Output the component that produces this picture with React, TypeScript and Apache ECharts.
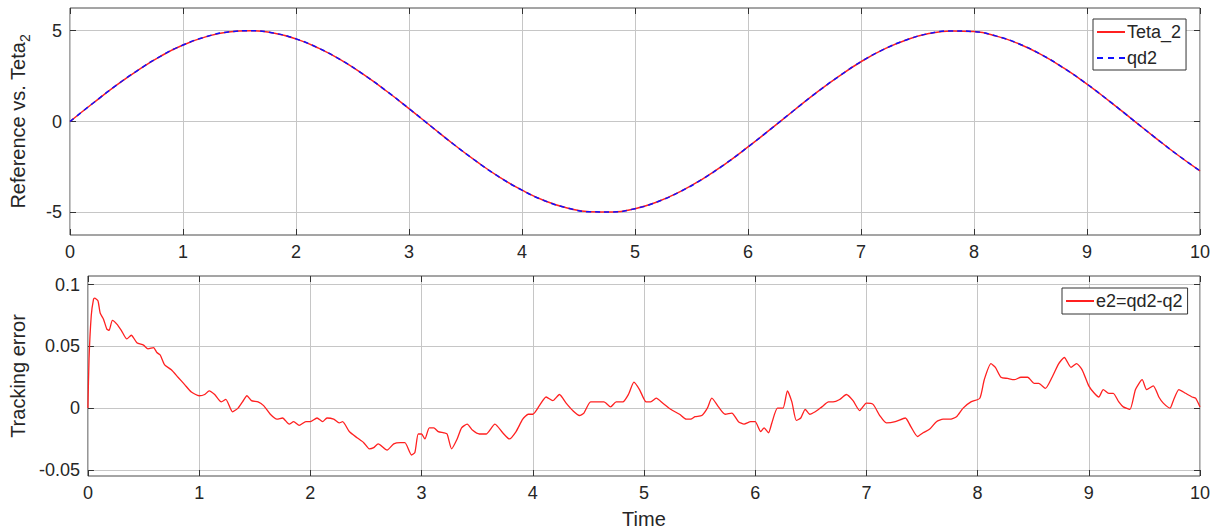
import React, { useEffect, useRef } from 'react';
import * as echarts from 'echarts';

// ---- data ----
const xTicks = [0, 1, 2, 3, 4, 5, 6, 7, 8, 9, 10];
const refYTicks = [-5, 0, 5];
const errYTicks = [-0.05, 0, 0.05, 0.1];

const refTime = [
  0, 0.2, 0.4, 0.6, 0.8, 1.0, 1.2, 1.4, 1.6, 1.8, 2.0, 2.2, 2.4, 2.6, 2.8, 3.0, 3.2, 3.4, 3.6, 3.8,
  4.0, 4.2, 4.4, 4.6, 4.8, 5.0, 5.2, 5.4, 5.6, 5.8, 6.0, 6.2, 6.4, 6.6, 6.8, 7.0, 7.2, 7.4, 7.6, 7.8,
  8.0, 8.2, 8.4, 8.6, 8.8, 9.0, 9.2, 9.4, 9.6, 9.8, 10.0,
];
const teta2 = [
  0, 0.99, 1.95, 2.82, 3.59, 4.21, 4.66, 4.93, 5.0, 4.87, 4.55, 4.04, 3.38, 2.58, 1.68, 0.71, -0.29,
  -1.28, -2.21, -3.06, -3.78, -4.36, -4.76, -4.97, -4.98, -4.8, -4.42, -3.86, -3.16, -2.33, -1.4, -0.42,
  0.58, 1.56, 2.47, 3.29, 3.97, 4.49, 4.84, 4.99, 4.95, 4.7, 4.27, 3.67, 2.92, 2.06, 1.11, 0.12, -0.87,
  -1.83, -2.72,
];
const qd2 = [
  0, 0.99, 1.95, 2.82, 3.59, 4.21, 4.66, 4.93, 5.0, 4.87, 4.55, 4.04, 3.38, 2.58, 1.68, 0.71, -0.29,
  -1.28, -2.21, -3.06, -3.78, -4.36, -4.76, -4.97, -4.98, -4.8, -4.42, -3.86, -3.16, -2.33, -1.4, -0.42,
  0.58, 1.56, 2.47, 3.29, 3.97, 4.49, 4.84, 4.99, 4.95, 4.7, 4.27, 3.67, 2.92, 2.06, 1.11, 0.12, -0.87,
  -1.83, -2.72,
];

const errTime = [
  0, 0.01, 0.03, 0.05, 0.06, 0.09, 0.11, 0.14, 0.17, 0.19, 0.22, 0.26, 0.3, 0.35, 0.39, 0.44, 0.5, 0.54,
  0.59, 0.62, 0.65, 0.69, 0.75, 0.81, 0.87, 0.93, 1.0, 1.05, 1.09, 1.14, 1.2, 1.24, 1.3, 1.35, 1.39,
  1.43, 1.47, 1.53, 1.58, 1.64, 1.7, 1.75, 1.81, 1.85, 1.9, 1.96, 2.0, 2.06, 2.11, 2.15, 2.21, 2.26,
  2.29, 2.35, 2.42, 2.48, 2.53, 2.57, 2.61, 2.69, 2.75, 2.81, 2.85, 2.91, 2.94, 2.97, 3.0, 3.03, 3.07,
  3.11, 3.15, 3.2, 3.23, 3.27, 3.32, 3.36, 3.41, 3.46, 3.52, 3.58, 3.66, 3.73, 3.79, 3.85, 3.91, 3.96,
  4.0, 4.06, 4.12, 4.18, 4.24, 4.3, 4.36, 4.42, 4.46, 4.52, 4.58, 4.64, 4.7, 4.75, 4.81, 4.86, 4.91,
  4.96, 5.02, 5.06, 5.11, 5.17, 5.24, 5.32, 5.38, 5.42, 5.46, 5.52, 5.57, 5.61, 5.67, 5.73, 5.79, 5.85,
  5.9, 5.96, 6.0, 6.05, 6.08, 6.12, 6.15, 6.2, 6.25, 6.29, 6.33, 6.37, 6.41, 6.45, 6.49, 6.54, 6.6,
  6.66, 6.7, 6.76, 6.82, 6.88, 6.94, 7.0, 7.06, 7.12, 7.18, 7.26, 7.35, 7.4, 7.46, 7.51, 7.57, 7.63,
  7.69, 7.75, 7.81, 7.87, 7.94, 8.02, 8.06, 8.12, 8.16, 8.21, 8.27, 8.33, 8.39, 8.45, 8.51, 8.55, 8.61,
  8.67, 8.73, 8.78, 8.84, 8.89, 8.94, 9.0, 9.05, 9.09, 9.13, 9.18, 9.22, 9.27, 9.31, 9.37, 9.42, 9.48,
  9.52, 9.58, 9.63, 9.67, 9.73, 9.76, 9.81, 9.87, 9.93, 9.96, 10.0,
];
const errValue = [
  0, 0.04, 0.075, 0.088, 0.089, 0.087, 0.077, 0.072, 0.064, 0.063, 0.071, 0.068, 0.063, 0.056, 0.059,
  0.053, 0.051, 0.048, 0.049, 0.045, 0.043, 0.035, 0.031, 0.025, 0.019, 0.013, 0.01, 0.011, 0.014,
  0.011, 0.005, 0.007, -0.003, 0.0, 0.005, 0.01, 0.006, 0.005, 0.002, -0.005, -0.009, -0.008, -0.013,
  -0.011, -0.014, -0.011, -0.011, -0.008, -0.011, -0.008, -0.009, -0.012, -0.011, -0.019, -0.024,
  -0.028, -0.033, -0.032, -0.029, -0.034, -0.029, -0.028, -0.028, -0.038, -0.036, -0.021, -0.021,
  -0.025, -0.016, -0.016, -0.019, -0.02, -0.021, -0.033, -0.025, -0.016, -0.013, -0.018, -0.021,
  -0.021, -0.013, -0.02, -0.025, -0.019, -0.009, -0.005, -0.005, 0.002, 0.009, 0.006, 0.011, 0.004,
  -0.002, -0.006, -0.004, 0.005, 0.005, 0.005, 0.001, 0.005, 0.005, 0.011, 0.021, 0.015, 0.005, 0.005,
  0.008, 0.004, -0.001, -0.005, -0.009, -0.009, -0.007, -0.006, 0.0, 0.008, 0.001, -0.005, -0.004,
  -0.011, -0.013, -0.011, -0.011, -0.019, -0.016, -0.02, -0.012, 0.0, 0.0, 0.014, 0.005, -0.01,
  -0.008, -0.001, -0.005, -0.003, 0.001, 0.005, 0.005, 0.007, 0.011, 0.006, -0.002, 0.004, 0.003,
  -0.006, -0.012, -0.011, -0.008, -0.015, -0.023, -0.02, -0.017, -0.011, -0.009, -0.009, -0.007, 0.0,
  0.005, 0.008, 0.023, 0.036, 0.033, 0.025, 0.024, 0.023, 0.025, 0.025, 0.02, 0.02, 0.016, 0.025,
  0.036, 0.041, 0.033, 0.036, 0.031, 0.018, 0.012, 0.009, 0.015, 0.012, 0.012, 0.005, 0.001, -0.001,
  0.015, 0.023, 0.015, 0.018, 0.009, 0.004, 0.0, 0.006, 0.015, 0.012, 0.009, 0.008, 0.001,
];

const FONT = "'Liberation Sans', Arial, Helvetica, sans-serif";
const TICK_COLOR = '#333333';
const GRID_COLOR = '#c6c6c6';
const LABEL_COLOR = '#262626';
const RED = '#ff2020';
const BLUE = '#1010ff';

const SOLID_ICON = 'path://M0,0h28v2h-28z';
const DASH_ICON = 'path://M0,0h6v2h-6z M11,0h6v2h-6z M22,0h6v2h-6z';

function fmt(v: number): string {
  return String(parseFloat(v.toFixed(4)));
}

function makeXAxes(gridIndex: number, withName: boolean) {
  return [
    {
      type: 'value',
      gridIndex,
      position: 'bottom',
      min: xTicks[0],
      max: xTicks[xTicks.length - 1],
      interval: 1,
      axisLine: { show: false, onZero: false },
      axisTick: { show: true, inside: true, length: 6, lineStyle: { color: TICK_COLOR } },
      axisLabel: { color: LABEL_COLOR, fontSize: 18, fontFamily: FONT, margin: 8, formatter: fmt },
      splitLine: { show: true, lineStyle: { color: GRID_COLOR, width: 1 } },
      name: withName ? 'Time' : '',
      nameLocation: 'middle',
      nameGap: 33,
      nameTextStyle: { fontSize: 20, color: LABEL_COLOR, fontFamily: FONT },
    },
    {
      type: 'value',
      gridIndex,
      position: 'top',
      min: xTicks[0],
      max: xTicks[xTicks.length - 1],
      interval: 1,
      axisLine: { show: false, onZero: false },
      axisTick: { show: true, inside: true, length: 6, lineStyle: { color: TICK_COLOR } },
      axisLabel: { show: false },
      splitLine: { show: false },
    },
  ];
}

function makeYAxes(gridIndex: number, min: number, max: number, ticks: number[], name: any, nameGap: number, rich?: any) {
  return [
    {
      type: 'value',
      gridIndex,
      position: 'left',
      min,
      max,
      axisLine: { show: false, onZero: false },
      axisTick: { show: true, inside: true, length: 6, customValues: ticks, lineStyle: { color: TICK_COLOR } },
      axisLabel: { color: LABEL_COLOR, fontSize: 18, fontFamily: FONT, margin: 8, customValues: ticks, formatter: fmt },
      splitLine: { show: true, lineStyle: { color: GRID_COLOR, width: 1 } },
      name,
      nameLocation: 'middle',
      nameRotate: 90,
      nameGap,
      nameTextStyle: { fontSize: 20, color: LABEL_COLOR, fontFamily: FONT, rich },
    },
    {
      type: 'value',
      gridIndex,
      position: 'right',
      min,
      max,
      axisLine: { show: false, onZero: false },
      axisTick: { show: true, inside: true, length: 6, customValues: ticks, lineStyle: { color: TICK_COLOR } },
      axisLabel: { show: false, customValues: ticks },
      splitLine: { show: false },
    },
  ];
}

export default function App() {
  const ref = useRef<HTMLDivElement>(null);

  useEffect(() => {
    if (!ref.current) return;
    const chart = echarts.init(ref.current, undefined, { renderer: 'svg' });

    const teta2Data = refTime.map((t, i) => [t, teta2[i]]);
    const qd2Data = refTime.map((t, i) => [t, qd2[i]]);
    const errData = errTime.map((t, i) => [t, errValue[i]]);

    const legendBase = {
      orient: 'vertical',
      itemWidth: 28,
      itemHeight: 2,
      backgroundColor: '#ffffff',
      borderColor: '#333333',
      borderWidth: 1,
      selectedMode: false,
      textStyle: { fontSize: 18, color: LABEL_COLOR, fontFamily: FONT, padding: [0, 0, 0, -3] },
    };

    const option: any = {
      animation: false,
      backgroundColor: '#ffffff',
      textStyle: { fontFamily: FONT },
      grid: [
        { left: 66, right: 20, top: 8, height: 227, show: true, borderColor: '#4a4a4a', borderWidth: 1, backgroundColor: '#ffffff' },
        { left: 83, right: 20, top: 276, height: 201, show: true, borderColor: '#4a4a4a', borderWidth: 1, backgroundColor: '#ffffff' },
      ],
      xAxis: [...makeXAxes(0, false), ...makeXAxes(1, true)],
      yAxis: [
        ...makeYAxes(0, -6.25, 6.25, refYTicks, '{a|Reference vs. Teta}{b|2}', 38, {
          a: { fontSize: 20, lineHeight: 24, verticalAlign: 'top', color: LABEL_COLOR, fontFamily: FONT },
          b: { fontSize: 14, lineHeight: 10, verticalAlign: 'bottom', color: LABEL_COLOR, fontFamily: FONT },
        }),
        ...makeYAxes(1, -0.055, 0.107, errYTicks, 'Tracking error', 54),
      ],
      legend: [
        {
          ...legendBase,
          data: [
            { name: 'Teta_2', icon: SOLID_ICON },
            { name: 'qd2', icon: DASH_ICON },
          ],
          left: 1093,
          top: 19,
          itemGap: 8,
          padding: [4, 5, 3, 4],
        },
        {
          ...legendBase,
          data: [{ name: 'e2=qd2-q2', icon: SOLID_ICON }],
          left: 1062,
          top: 288,
          padding: [4, 5, 4, 4],
        },
      ],
      series: [
        {
          name: 'Teta_2',
          type: 'line',
          xAxisIndex: 0,
          yAxisIndex: 0,
          data: teta2Data,
          symbol: 'none',
          smooth: true,
          lineStyle: { color: RED, width: 1.5 },
          itemStyle: { color: RED },
        },
        {
          name: 'qd2',
          type: 'line',
          xAxisIndex: 0,
          yAxisIndex: 0,
          data: qd2Data,
          symbol: 'none',
          smooth: true,
          lineStyle: { color: BLUE, width: 1.5, type: [5, 4] },
          itemStyle: { color: BLUE },
        },
        {
          name: 'e2=qd2-q2',
          type: 'line',
          xAxisIndex: 2,
          yAxisIndex: 2,
          data: errData,
          symbol: 'none',
          smooth: 0.2,
          lineStyle: { color: RED, width: 1.3 },
          itemStyle: { color: RED },
        },
      ],
    };

    chart.setOption(option);
    return () => {
      chart.dispose();
    };
  }, []);

  return (
    <div
      ref={ref}
      style={{ position: 'fixed', left: 0, top: 0, width: 1220, height: 530, background: '#ffffff' }}
    />
  );
}
